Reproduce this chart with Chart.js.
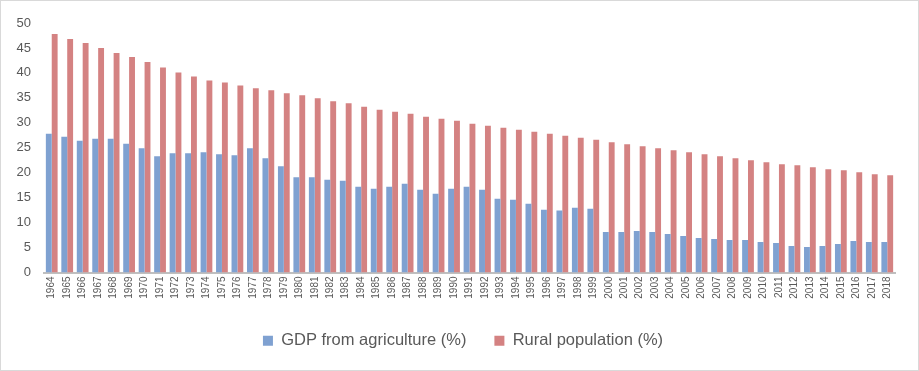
<!DOCTYPE html>
<html>
<head>
<meta charset="utf-8">
<script src="https://cdn.jsdelivr.net/npm/chart.js@4"></script>
<style>
  html, body { margin: 0; padding: 0; background: #fff; }
  #wrap { width: 917px; height: 369px; border: 1px solid #d9d9d9; }
  canvas { display: block; }
</style>
</head>
<body>
<div id="wrap"><canvas id="chart" width="917" height="369"></canvas></div>
<script>
const years = [
  "1964", "1965", "1966", "1967", "1968", "1969", "1970", "1971", "1972", "1973",
  "1974", "1975", "1976", "1977", "1978", "1979", "1980", "1981", "1982", "1983",
  "1984", "1985", "1986", "1987", "1988", "1989", "1990", "1991", "1992", "1993",
  "1994", "1995", "1996", "1997", "1998", "1999", "2000", "2001", "2002", "2003",
  "2004", "2005", "2006", "2007", "2008", "2009", "2010", "2011", "2012", "2013",
  "2014", "2015", "2016", "2017", "2018"
];

const gdpAgriculture = [
  27.8, 27.2, 26.4, 26.8, 26.8, 25.8, 24.9, 23.3, 23.9, 23.9,
  24.1, 23.7, 23.5, 24.9, 22.9, 21.3, 19.1, 19.1, 18.6, 18.4,
  17.2, 16.8, 17.2, 17.8, 16.6, 15.8, 16.8, 17.2, 16.6, 14.8,
  14.6, 13.8, 12.6, 12.4, 13.0, 12.8, 8.1, 8.1, 8.3, 8.1,
  7.7, 7.3, 6.9, 6.7, 6.5, 6.5, 6.1, 5.9, 5.3, 5.1,
  5.3, 5.7, 6.3, 6.1, 6.1
];

const ruralPopulation = [
  47.8, 46.8, 46.0, 45.0, 44.0, 43.2, 42.2, 41.1, 40.1, 39.3,
  38.5, 38.1, 37.5, 36.9, 36.5, 35.9, 35.5, 34.9, 34.3, 33.9,
  33.2, 32.6, 32.2, 31.8, 31.2, 30.8, 30.4, 29.8, 29.4, 29.0,
  28.6, 28.2, 27.8, 27.4, 27.0, 26.6, 26.1, 25.7, 25.3, 24.9,
  24.5, 24.1, 23.7, 23.3, 22.9, 22.5, 22.1, 21.7, 21.5, 21.1,
  20.7, 20.5, 20.1, 19.7, 19.5
];

const yTicks = [0, 5, 10, 15, 20, 25, 30, 35, 40, 45, 50];

const textColor = "#595959";
const fontFamily = "'Liberation Sans', Arial, sans-serif";

// legend in the original sits a bit right of centre
const shiftLegend = {
  id: "shiftLegend",
  afterLayout(chart) {
    chart.legend.left += 15;
    chart.legend.right += 15;
  },
};

const ctx = document.getElementById("chart").getContext("2d");

new Chart(ctx, {
  type: "bar",
  data: {
    labels: years,
    datasets: [
      {
        label: "GDP from agriculture (%)",
        data: gdpAgriculture,
        backgroundColor: "#7fa1d1",
        categoryPercentage: 0.76,
        barPercentage: 1.0,
      },
      {
        label: "Rural population (%)",
        data: ruralPopulation,
        backgroundColor: "#d48282",
        categoryPercentage: 0.76,
        barPercentage: 1.0,
      },
    ],
  },
  options: {
    responsive: false,
    animation: false,
    layout: {
      padding: { top: 22, right: 23, left: 0, bottom: 11 },
    },
    scales: {
      x: {
        grid: { display: false, drawTicks: false },
        border: { display: true, color: "#bfbfbf", width: 2 },
        ticks: {
          color: textColor,
          font: { family: fontFamily, size: 10 },
          minRotation: 90,
          maxRotation: 90,
          autoSkip: false,
          padding: 4,
        },
        afterFit: (scale) => {
          scale.height = 32;
        },
      },
      y: {
        min: 0,
        max: 50,
        afterBuildTicks: (scale) => {
          scale.ticks = yTicks.map((v) => ({ value: v }));
        },
        grid: { display: false, drawTicks: false },
        border: { display: false },
        ticks: {
          color: textColor,
          font: { family: fontFamily, size: 13 },
          padding: 13,
        },
        afterFit: (scale) => {
          scale.width = 43;
        },
      },
    },
    plugins: {
      legend: {
        position: "bottom",
        labels: {
          color: textColor,
          font: { family: fontFamily, size: 16.5 },
          boxWidth: 10,
          boxHeight: 10,
          padding: 28,
        },
      },
      tooltip: { enabled: false },
    },
  },
  plugins: [shiftLegend],
});
</script>
</body>
</html>
